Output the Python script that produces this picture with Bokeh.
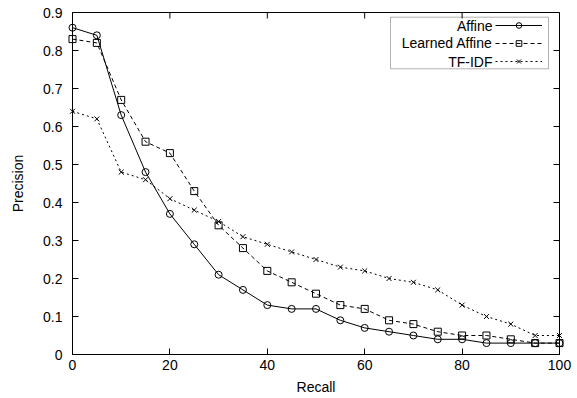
import math
from bokeh.plotting import figure
from bokeh.models import (Range1d, FixedTicker, Legend, LegendItem,
                          BoxAnnotation, Label)
from bokeh.core.properties import value
from bokeh.embed import file_html
from bokeh.resources import INLINE

# ---- data ----
recall = [0, 5, 10, 15, 20, 25, 30, 35, 40, 45, 50, 55, 60, 65, 70, 75, 80, 85, 90, 95, 100]
affine = [0.86, 0.84, 0.63, 0.48, 0.37, 0.29, 0.21, 0.17, 0.13, 0.12, 0.12,
          0.09, 0.07, 0.06, 0.05, 0.04, 0.04, 0.03, 0.03, 0.03, 0.03]
learned_affine = [0.83, 0.82, 0.67, 0.56, 0.53, 0.43, 0.34, 0.28, 0.22, 0.19, 0.16,
                  0.13, 0.12, 0.09, 0.08, 0.06, 0.05, 0.05, 0.04, 0.03, 0.03]
tfidf = [0.64, 0.62, 0.48, 0.46, 0.41, 0.38, 0.35, 0.31, 0.29, 0.27, 0.25,
         0.23, 0.22, 0.20, 0.19, 0.17, 0.13, 0.10, 0.08, 0.05, 0.05]
series_names = ["Affine", "Learned Affine", "TF-IDF"]

x_ticks = [0, 20, 40, 60, 80, 100]
y_ticks = [0, 0.1, 0.2, 0.3, 0.4, 0.5, 0.6, 0.7, 0.8, 0.9]
y_tick_labels = ["0", "0.1", "0.2", "0.3", "0.4", "0.5", "0.6", "0.7", "0.8", "0.9"]

FONT = "Liberation Sans"
FS = "14px"

p = figure(frame_width=487, frame_height=342, output_backend="svg", toolbar_location=None,
           x_range=Range1d(x_ticks[0], x_ticks[-1]), y_range=Range1d(y_ticks[0], y_ticks[-1]),
           min_border_left=72, min_border_right=18, min_border_top=12, min_border_bottom=44,
           x_axis_label="Recall", y_axis_label="Precision")
p.grid.visible = False
p.outline_line_color = "black"
p.outline_line_width = 1
p.background_fill_color = "white"
p.border_fill_color = "white"


def style_axis(ax, ticks):
    ax.ticker = FixedTicker(ticks=ticks)
    ax.major_tick_in = 6
    ax.major_tick_out = 0
    ax.minor_tick_line_color = None
    ax.axis_line_color = "black"
    ax.major_tick_line_color = "black"
    ax.major_label_text_font = FONT
    ax.major_label_text_font_size = FS
    ax.major_label_text_color = "black"
    ax.axis_label_text_font = FONT
    ax.axis_label_text_font_size = FS
    ax.axis_label_text_font_style = "normal"
    ax.axis_label_text_color = "black"


xa = p.xaxis[0]
style_axis(xa, x_ticks)
xa.major_label_standoff = 5
xa.axis_label_standoff = 6

ya = p.yaxis[0]
style_axis(ya, y_ticks)
ya.major_label_overrides = {t: l for t, l in zip(y_ticks, y_tick_labels)}
ya.major_label_standoff = 10
ya.axis_label_standoff = 14

# mirrored inward ticks on the top and right edges (gnuplot style), clipped by the frame
p.scatter(x_ticks, [y_ticks[-1]] * len(x_ticks), marker="dash", size=12,
          angle=math.pi / 2, line_color="black", line_width=1)
p.scatter([x_ticks[-1]] * len(y_ticks), y_ticks, marker="dash", size=12,
          line_color="black", line_width=1)

l1 = p.line(recall, affine, line_color="black", line_width=1)
m1 = p.scatter(recall, affine, marker="circle", size=7, fill_color=None,
               line_color="black", line_width=1, level="overlay")
l2 = p.line(recall, learned_affine, line_color="black", line_width=1, line_dash="4 3")
m2 = p.scatter(recall, learned_affine, marker="square", size=7, fill_color=None,
               line_color="black", line_width=1, level="overlay")
l3 = p.line(recall, tfidf, line_color="black", line_width=1, line_dash="2 3")
m3 = p.scatter(recall, tfidf, marker="x", size=7, line_color="black", line_width=1,
               level="overlay")

# gnuplot-style key: text on the left (right-aligned), sample on the right
legend = Legend(items=[LegendItem(label=value(""), renderers=[l1, m1]),
                       LegendItem(label=value(""), renderers=[l2, m2]),
                       LegendItem(label=value(""), renderers=[l3, m3])],
                location=(423, 284), orientation="vertical",
                glyph_width=47, glyph_height=14, label_height=18, label_width=1,
                label_standoff=0, spacing=0, padding=0, margin=0,
                border_line_color=None, background_fill_alpha=0,
                label_text_font_size=FS)
p.add_layout(legend)

p.add_layout(BoxAnnotation(left=318, right=476, bottom=285.7, top=337.3,
                           left_units="screen", right_units="screen",
                           bottom_units="screen", top_units="screen",
                           fill_alpha=0, line_color="black", line_width=1))
for name, yy in zip(series_names, [329, 311.3, 293]):
    p.add_layout(Label(x=420, y=yy, x_units="screen", y_units="screen", text=name,
                       text_align="right", text_baseline="middle",
                       text_font=FONT, text_font_size=FS, text_color="black"))

open("out.html", "w").write(file_html(p, INLINE))
